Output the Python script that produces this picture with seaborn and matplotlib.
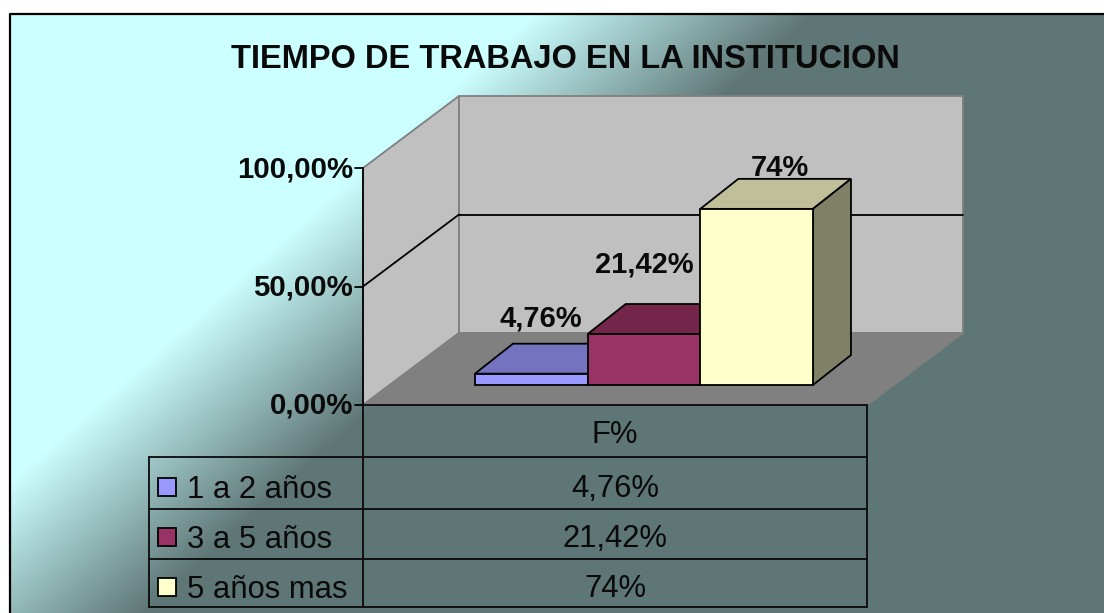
import numpy as np
import pandas as pd
import seaborn as sns
import matplotlib.pyplot as plt
from matplotlib.colors import LinearSegmentedColormap
from matplotlib.patches import Polygon, Rectangle

categories = ['1 a 2 años', '3 a 5 años', '5 años mas']
values = [4.76, 21.42, 74]
value_labels = ['4,76%', '21,42%', '74%']
y_ticks = [0, 50, 100]
y_tick_labels = ['0,00%', '50,00%', '100,00%']
colors = ['#9999ff', '#993366', '#ffffcc']
top_colors = ['#7373bf', '#732649', '#bfbf99']
side_colors = ['#4d4d80', '#4d1a33', '#808066']

W, H = 1104, 613
PX_PER_PCT = 2.38
PX_PER_CAT = 112.67
BAR_X0, BAR_Y0 = 531.3, 385  # pixel del centro/base de la primera barra
BAR_DX, BAR_DY = 38, -30  # profundidad de las barras
LW = 1.3

sns.set_theme(style='white')
plt.rcParams['font.family'] = ['Liberation Sans', 'DejaVu Sans']

fig = plt.figure(figsize=(W / 100, H / 100), dpi=100)
bg = fig.add_axes([0, 0, 1, 1])
bg.axis('off')

# fondo degradado en diagonal
xx, yy = np.meshgrid(np.arange(10, W), np.arange(14, H))
t = np.clip((xx + 1.12 * yy - 550) / 280, 0, 1)
cmap = LinearSegmentedColormap.from_list('fondo', ['#ccffff', '#5f7676'])
bg.imshow(t, cmap=cmap, extent=(10, W, H, 14), aspect='auto', zorder=0)
bg.set_xlim(0, W)
bg.set_ylim(H, 0)
bg.plot([10, 10, W], [H, 14, 14], color='black', lw=1.6, zorder=1)

# paredes y piso
FX0, FX1, FY0 = 363, 867, 405
DX, DY = 96, -72
top = FY0 - 100 * 2.37
bg.add_patch(Polygon([(FX0, top), (FX0 + DX, top + DY), (FX0 + DX, FY0 + DY), (FX0, FY0)],
                     fc='#c0c0c0', ec='#808080', lw=LW, zorder=2))
bg.add_patch(Polygon([(FX0 + DX, top + DY), (FX1 + DX, top + DY), (FX1 + DX, FY0 + DY), (FX0 + DX, FY0 + DY)],
                     fc='#c0c0c0', ec='#808080', lw=LW, zorder=2))
bg.add_patch(Polygon([(FX0, FY0), (FX0 + DX, FY0 + DY), (FX1 + DX, FY0 + DY), (FX1, FY0)],
                     fc='#808080', ec='#808080', lw=LW, zorder=2))

# rejilla y eje
for tick, label in zip(y_ticks, y_tick_labels):
    y = FY0 - tick * 2.37
    if tick == 50:
        bg.plot([FX0, FX0 + DX], [y, y + DY], color='black', lw=LW, zorder=3)
        bg.plot([FX0 + DX, FX1 + DX], [y + DY, y + DY], color='black', lw=LW, zorder=3)
    bg.plot([FX0 - 8, FX0], [y, y], color='black', lw=LW, zorder=3)
    bg.text(FX0 - 10, y + 1, label, ha='right', va='center', fontsize=21.2, fontweight='bold', color='#0a0a0a', zorder=6)
bg.plot([FX0, FX0], [top, FY0], color='black', lw=LW, zorder=3)

bg.text(565, 60, 'TIEMPO DE TRABAJO EN LA INSTITUCION', ha='center', va='center',
        fontsize=23.5, fontweight='bold', color='#0a0a0a', zorder=6)

# tabla de datos
table_ys = [405, 457, 509, 559, 607]
for y in table_ys:
    bg.plot([FX0 if y == 405 else 149, FX1], [y, y], color='#0a0a0a', lw=LW, zorder=3)
bg.plot([149, 149], [457, 607], color='#0a0a0a', lw=LW, zorder=3)
bg.plot([FX0, FX0], [405, 607], color='#0a0a0a', lw=LW, zorder=3)
bg.plot([FX1, FX1], [405, 607], color='#0a0a0a', lw=LW, zorder=3)
bg.text(615, 435, 'F%', ha='center', va='center', fontsize=22.3, color='#0a0a0a')
row_centers = [487, 537, 587]
swatch_centers = [487, 537, 587]
for i, cat in enumerate(categories):
    bg.add_patch(Rectangle((158, swatch_centers[i] - 9), 18, 18, fc=colors[i], ec='black', lw=LW, zorder=4))
    bg.text(187, row_centers[i] + 3, cat, ha='left', va='center', fontsize=22.3, color='#0a0a0a')
    bg.text(615, row_centers[i] + 2, value_labels[i], ha='center', va='center', fontsize=22.3, color='#0a0a0a')

# barras: ejes transparentes con la misma extension que la figura
ax = fig.add_axes([0, 0, 1, 1], facecolor='none')
df = pd.DataFrame({'cat': categories, 'val': values})
sns.barplot(data=df, x='cat', y='val', hue='cat', palette=colors, saturation=1, width=1,
            legend=False, edgecolor='black', linewidth=LW, ax=ax)
ax.set_xlim(-BAR_X0 / PX_PER_CAT, (W - BAR_X0) / PX_PER_CAT)
ax.set_ylim((BAR_Y0 - H) / PX_PER_PCT, BAR_Y0 / PX_PER_PCT)
ax.axis('off')

bars = list(ax.patches[:3])
dx = BAR_DX / PX_PER_CAT
dy = -BAR_DY / PX_PER_PCT
for i, bar in enumerate(bars):
    x0, x1, h = bar.get_x(), bar.get_x() + bar.get_width(), bar.get_height()
    bar.set_zorder(3 + 2 * i)
    ax.add_patch(Polygon([(x0, h), (x0 + dx, h + dy), (x1 + dx, h + dy), (x1, h)],
                         fc=top_colors[i], ec='black', lw=LW, zorder=2 + 2 * i))
    ax.add_patch(Polygon([(x1, 0), (x1 + dx, dy), (x1 + dx, h + dy), (x1, h)],
                         fc=side_colors[i], ec='black', lw=LW, zorder=2 + 2 * i))

# etiquetas de valor
label_dx = [10, 0, 23]
label_up = [55, 70, 41]
for i, bar in enumerate(bars):
    cx = bar.get_x() + bar.get_width() / 2
    ax.annotate(value_labels[i], (cx, bar.get_height()), xytext=(label_dx[i] * 0.72, label_up[i] * 0.72),
                textcoords='offset points', ha='center', va='center', fontsize=21, fontweight='bold',
                color='#0a0a0a', zorder=12)

fig.savefig('out.png', dpi=100)
